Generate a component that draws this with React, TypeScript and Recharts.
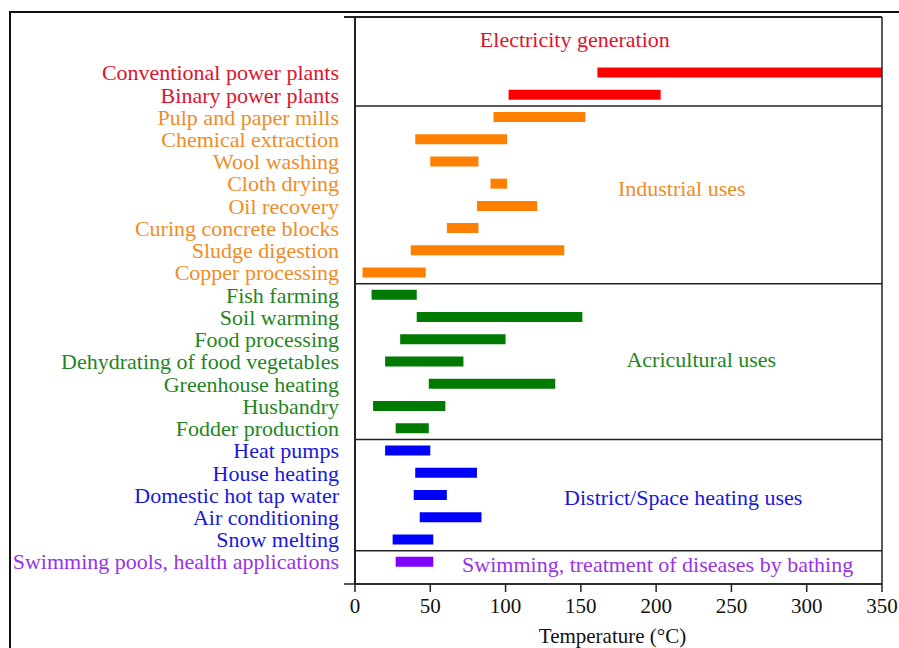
import React from "react";
import {
  BarChart,
  Bar,
  XAxis,
  YAxis,
  Cell,
  ReferenceLine,
  ReferenceDot,
} from "recharts";

const categories = [
  "Conventional power plants",
  "Binary power plants",
  "Pulp and paper mills",
  "Chemical extraction",
  "Wool washing",
  "Cloth drying",
  "Oil recovery",
  "Curing concrete blocks",
  "Sludge digestion",
  "Copper processing",
  "Fish farming",
  "Soil warming",
  "Food processing",
  "Dehydrating of food vegetables",
  "Greenhouse heating",
  "Husbandry",
  "Fodder production",
  "Heat pumps",
  "House heating",
  "Domestic hot tap water",
  "Air conditioning",
  "Snow melting",
  "Swimming pools, health applications",
];

const lows = [161, 102, 92, 40, 50, 90, 81, 61, 37, 5, 11, 41, 30, 20, 49, 12, 27, 20, 40, 39, 43, 25, 27];
const highs = [350, 203, 153, 101, 82, 101, 121, 82, 139, 47, 41, 151, 100, 72, 133, 60, 49, 50, 81, 61, 84, 52, 52];
const groups = [
  "elec", "elec",
  "ind", "ind", "ind", "ind", "ind", "ind", "ind", "ind",
  "agr", "agr", "agr", "agr", "agr", "agr", "agr",
  "dist", "dist", "dist", "dist", "dist",
  "swim",
];

const groupNames = ["elec", "ind", "agr", "dist", "swim"];
const groupTitles = [
  "Electricity generation",
  "Industrial uses",
  "Acricultural uses",
  "District/Space heating uses",
  "Swimming, treatment of diseases by bathing",
];
const xTicks = [0, 50, 100, 150, 200, 250, 300, 350];

// styling (kept apart from data)
const barColors: Record<string, string> = {
  elec: "#ff0000",
  ind: "#ff8000",
  agr: "#007a00",
  dist: "#0000ff",
  swim: "#8000ff",
};
const textColors: Record<string, string> = {
  elec: "#e0122c",
  ind: "#f08c28",
  agr: "#1f851f",
  dist: "#1818dc",
  swim: "#9a32e6",
};
const titleAnchors: Record<string, { x: number; y: number }> = {
  elec: { x: 146, y: -1.5 },
  ind: { x: 217, y: 5.2 },
  agr: { x: 230, y: 12.9 },
  dist: { x: 218, y: 19.1 },
  swim: { x: 201, y: 22.1 },
};
const separators = [1.5, 9.5, 16.5, 21.5];

const FONT = "'Liberation Serif', 'Times New Roman', serif";

const data = categories.map((name, i) => ({
  idx: i,
  name,
  group: groups[i],
  range: [lows[i], highs[i]],
}));

const YTick = (props: any) => {
  const { x, y, payload } = props;
  const i = Math.round(payload.value);
  if (i < 0 || i >= categories.length) return null;
  return (
    <text
      x={x}
      y={y}
      dy="0.35em"
      textAnchor="end"
      fill={textColors[groups[i]]}
      fontSize={22}
      fontFamily={FONT}
    >
      {categories[i]}
    </text>
  );
};

export default function App() {
  return (
    <div
      style={{
        position: "absolute",
        left: 0,
        top: 0,
        width: 899,
        height: 648,
        background: "#fff",
        overflow: "hidden",
      }}
    >
      <div
        style={{
          position: "absolute",
          left: 9,
          top: 11,
          width: 900,
          height: 650,
          borderTop: "2px solid #111",
          borderLeft: "2px solid #111",
        }}
      />
      <div style={{ position: "absolute", left: 0, top: 0 }}>
        <BarChart
          width={899}
          height={648}
          data={data}
          layout="vertical"
          margin={{ top: 17, right: 17, bottom: 0, left: 0 }}
        >
          <XAxis
            type="number"
            domain={[0, 350]}
            ticks={xTicks}
            allowDataOverflow
            height={64}
            tickSize={8}
            tickMargin={6}
            axisLine={{ stroke: "#222", strokeWidth: 1.5 }}
            tickLine={{ stroke: "#222", strokeWidth: 1.5 }}
            tick={{ fill: "#111", fontSize: 21, fontFamily: FONT }}
            label={{
              value: "Temperature (°C)",
              position: "insideBottom",
              offset: 5,
              dx: -6,
              fill: "#111",
              fontSize: 21,
              fontFamily: FONT,
            }}
          />
          <YAxis
            type="number"
            dataKey="idx"
            domain={[-2.5, 23]}
            allowDataOverflow
            ticks={categories.map((_, i) => i)}
            interval={0}
            width={355}
            tickSize={0}
            tickMargin={16}
            tickLine={false}
            axisLine={{ stroke: "#222", strokeWidth: 2 }}
            tick={<YTick />}
          />
          {separators.map((s) => (
            <ReferenceLine
              key={s}
              y={s}
              stroke="#222"
              strokeWidth={1.5}
              ifOverflow="visible"
            />
          ))}
          <ReferenceLine
            segment={[
              { x: -7.3, y: -2.5 },
              { x: 350, y: -2.5 },
            ]}
            stroke="#222"
            strokeWidth={2}
            ifOverflow="visible"
          />
          <ReferenceLine
            segment={[
              { x: -7.3, y: 23 },
              { x: 350, y: 23 },
            ]}
            stroke="#222"
            strokeWidth={1.5}
            ifOverflow="visible"
          />
          <ReferenceLine x={350} stroke="#222" strokeWidth={1.5} ifOverflow="visible" />
          <Bar dataKey="range" barSize={10} isAnimationActive={false}>
            {data.map((d) => (
              <Cell key={d.name} fill={barColors[d.group]} />
            ))}
          </Bar>
          {groupNames.map((g, k) => (
            <ReferenceDot
              key={g}
              x={titleAnchors[g].x}
              y={titleAnchors[g].y}
              r={0}
              fill="none"
              stroke="none"
              ifOverflow="visible"
              label={{
                value: groupTitles[k],
                position: "center",
                fill: textColors[g],
                fontSize: 22,
                fontFamily: FONT,
              }}
            />
          ))}
        </BarChart>
      </div>
    </div>
  );
}
